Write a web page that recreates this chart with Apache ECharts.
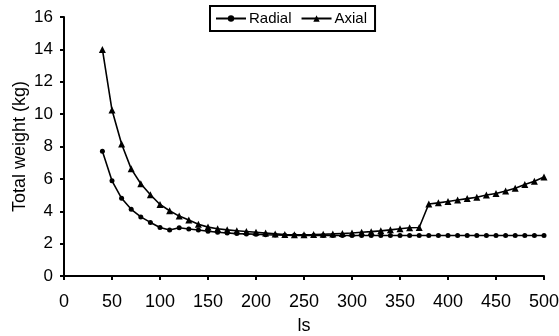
<!DOCTYPE html>
<html>
<head>
<meta charset="utf-8">
<script src="https://cdn.jsdelivr.net/npm/echarts@6/dist/echarts.min.js"></script>
<style>
  html, body { margin: 0; padding: 0; background: #fff; }
  #chart { width: 559px; height: 336px; }
</style>
</head>
<body>
<div id="chart"></div>
<script>
const lsValues = [40, 50, 60, 70, 80, 90, 100, 110, 120, 130, 140, 150, 160, 170, 180, 190, 200,
  210, 220, 230, 240, 250, 260, 270, 280, 290, 300, 310, 320, 330, 340, 350, 360, 370,
  380, 390, 400, 410, 420, 430, 440, 450, 460, 470, 480, 490, 500]

const radialWeight = [7.7, 5.88, 4.8, 4.12, 3.65, 3.31, 3.0, 2.84, 2.98, 2.9, 2.84, 2.76, 2.7, 2.66, 2.62, 2.6, 2.58,
  2.55, 2.53, 2.52, 2.51, 2.5, 2.5, 2.5, 2.5, 2.5, 2.5, 2.5, 2.5, 2.5, 2.5, 2.5, 2.5, 2.5,
  2.5, 2.5, 2.5, 2.5, 2.5, 2.5, 2.5, 2.5, 2.5, 2.5, 2.5, 2.5, 2.5]

const axialWeight = [14.0, 10.25, 8.15, 6.62, 5.7, 5.02, 4.42, 4.03, 3.7, 3.46, 3.2, 3.02, 2.92, 2.85, 2.8, 2.75, 2.7,
  2.65, 2.6, 2.56, 2.55, 2.55, 2.56, 2.58, 2.6, 2.63, 2.66, 2.7, 2.74, 2.79, 2.85, 2.92, 2.98, 3.0,
  4.45, 4.52, 4.6, 4.7, 4.78, 4.87, 5.0, 5.1, 5.25, 5.42, 5.65, 5.85, 6.12]

const xTicks = { min: 0, max: 500, interval: 50 }
const yTicks = { min: 0, max: 16, interval: 2 }

const toPairs = (values) => lsValues.map((x, i) => [x, values[i]])

const font = "Liberation Sans, Arial, sans-serif"

const chart = echarts.init(document.getElementById("chart"))

const axisCommon = {
  axisLine: { show: true, onZero: false, lineStyle: { color: "#000", width: 2 } },
  axisTick: { show: true, inside: false, length: 4, lineStyle: { color: "#000", width: 2 } },
  splitLine: { show: false },
  nameMoveOverlap: false,
  nameTextStyle: { color: "#000", fontSize: 18, fontFamily: font },
}

chart.setOption({
  backgroundColor: "#fff",
  animation: false,
  grid: { left: 64, right: 15, top: 17, bottom: 60, containLabel: false, outerBoundsMode: "none" },
  legend: {
    left: 210,
    top: 6,
    padding: [5, 8, 5, 5],
    borderColor: "#000",
    borderWidth: 2,
    itemGap: 9,
    itemWidth: 30,
    itemHeight: 8,
    textStyle: { color: "#000", fontSize: 15, fontFamily: font, padding: [0, 0, 0, -2] },
    data: ["Radial", "Axial"],
  },
  xAxis: {
    ...axisCommon,
    type: "value",
    min: xTicks.min,
    max: xTicks.max,
    interval: xTicks.interval,
    name: "ls",
    nameLocation: "middle",
    nameGap: 41,
    axisLabel: { color: "#000", fontSize: 18, fontFamily: font, margin: 17 },
  },
  yAxis: {
    ...axisCommon,
    type: "value",
    min: yTicks.min,
    max: yTicks.max,
    interval: yTicks.interval,
    name: "Total weight (kg)",
    nameLocation: "middle",
    nameGap: 35,
    axisLabel: { color: "#000", fontSize: 17, fontFamily: font, margin: 11 },
  },
  series: [
    {
      name: "Radial",
      type: "line",
      data: toPairs(radialWeight),
      symbol: "circle",
      symbolSize: 5,
      lineStyle: { color: "#000", width: 1.6 },
      itemStyle: { color: "#000" },
    },
    {
      name: "Axial",
      type: "line",
      data: toPairs(axialWeight),
      symbol: "triangle",
      symbolSize: 7,
      lineStyle: { color: "#000", width: 1.6 },
      itemStyle: { color: "#000" },
    },
  ],
})
</script>
</body>
</html>
